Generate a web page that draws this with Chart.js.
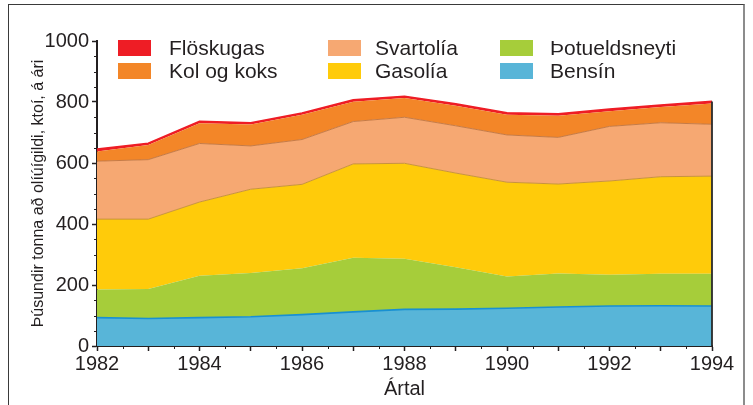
<!DOCTYPE html>
<html>
<head>
<meta charset="utf-8">
<script src="https://cdn.jsdelivr.net/npm/chart.js@4.4.1/dist/chart.umd.min.js"></script>
<style>
  html, body { margin: 0; padding: 0; background: #fff; }
  #wrap { position: relative; width: 753px; height: 405px; overflow: hidden; }
  #frame { position: absolute; left: 8px; top: 4px; width: 737px; height: 420px;
    border-top: 1.5px solid #3a3a3a; border-left: 1.5px solid #3a3a3a; border-right: 2px solid #8c8c8c; box-sizing: border-box; }
  canvas { position: absolute; left: 0; top: 0; }
  .lg { position: absolute; font-family: 'Liberation Sans', Arial, sans-serif; font-size: 21px; color: #231f20; line-height: 16px; white-space: nowrap; }
  .bx { position: absolute; width: 33px; height: 16px; }
</style>
</head>
<body>
<div id="wrap">
  <div id="frame"></div>
  <canvas id="c" width="753" height="405"></canvas>
  <div id="legend"></div>
</div>
<script>
// ---- data ----
const years = [1982, 1983, 1984, 1985, 1986, 1987, 1988, 1989, 1990, 1991, 1992, 1993, 1994];
const bensin = [93, 90, 93, 96, 103, 112, 120, 121, 124, 128, 131, 132, 131];
const thotueldsneyti = [92, 97, 137, 143, 152, 177, 166, 137, 104, 110, 103, 105, 106];
const gasolia = [231, 229, 242, 275, 275, 308, 313, 309, 309, 293, 307, 318, 320];
const svartolia = [190, 195, 192, 142, 147, 139, 151, 155, 155, 153, 179, 177, 170];
const kolOgKoks = [32, 48, 66, 70, 81, 65, 63, 66, 66, 71, 50, 52, 68];
const floskugas = [8, 6, 7, 6, 6, 6, 6, 6, 7, 6, 7, 6, 7];
const yTicks = [0, 200, 400, 600, 800, 1000];
const xTickLabels = [1982, 1984, 1986, 1988, 1990, 1992, 1994];
const seriesNames = ['Bensín', 'Þotueldsneyti', 'Gasolía', 'Svartolía', 'Kol og koks', 'Flöskugas'];
const yTitle = 'Þúsundir tonna að olíúígildi, ktoí, á ári';
const xTitle = 'Ártal';

// ---- styles ----
const fills = ['#58b5d8', '#a6cd3a', '#ffcb0a', '#f6a872', '#f38628', '#ee1d25'];
const borders = ['#1890d2', '#a6cd3a', '#c8923e', '#c57a45', '#f38628', '#ee1d25'];
const borderWidths = [1.6, 0, 1, 1, 0, 1.6];
const seriesValues = [bensin, thotueldsneyti, gasolia, svartolia, kolOgKoks, floskugas];

const datasets = seriesValues.map((vals, i) => ({
  label: seriesNames[i],
  data: vals.map((v, j) => ({ x: years[j], y: v })),
  backgroundColor: fills[i],
  borderColor: borders[i],
  borderWidth: borderWidths[i],
  fill: i === 0 ? 'origin' : '-1',
  pointRadius: 0,
  tension: 0
}));

const FONT = "'Liberation Sans', Arial, sans-serif";
const INK = '#231f20';

const extras = {
  id: 'extras',
  afterDraw(chart) {
    const { ctx, scales: { x, y } } = chart;
    ctx.save();
    ctx.strokeStyle = INK;
    ctx.lineWidth = 1;
    for (let v = 0; v <= 1000; v += 50) {
      if (v % 200 !== 0) {
        const py = Math.round(y.getPixelForValue(v)) + 0.5;
        ctx.beginPath(); ctx.moveTo(y.right - 3, py); ctx.lineTo(y.right, py); ctx.stroke();
      }
    }
    for (let v = years[0] + 0.5; v < years[years.length - 1]; v += 1) {
      const px = Math.round(x.getPixelForValue(v)) + 0.5;
      ctx.beginPath(); ctx.moveTo(px, x.top); ctx.lineTo(px, x.top + 3); ctx.stroke();
    }
    // right edge outline of stacked area
    const meta = chart.getDatasetMeta(chart.data.datasets.length - 1);
    const last = meta.data[meta.data.length - 1];
    ctx.strokeStyle = '#2a2a2a';
    ctx.lineWidth = 1.8;
    ctx.beginPath(); ctx.moveTo(last.x, last.y); ctx.lineTo(last.x, y.bottom); ctx.stroke();
    ctx.restore();
  }
};

new Chart(document.getElementById('c'), {
  type: 'line',
  data: { datasets },
  options: {
    responsive: false,
    animation: false,
    devicePixelRatio: 1,
    layout: { padding: { top: 41, right: 41, bottom: 0, left: 0 } },
    plugins: { legend: { display: false }, tooltip: { enabled: false } },
    scales: {
      x: {
        type: 'linear',
        min: years[0], max: years[years.length - 1],
        afterFit: s => { s.height = 59; },
        ticks: {
          stepSize: 1, autoSkip: false, maxRotation: 0,
          color: INK, font: { family: FONT, size: 20 }, padding: 1,
          callback: v => xTickLabels.includes(v) ? String(v) : ''
        },
        grid: { display: true, drawOnChartArea: false, drawTicks: true, tickLength: 5, tickColor: INK, tickWidth: 1.5 },
        border: { display: true, color: INK, width: 2 },
        title: { display: true, text: xTitle, color: INK, font: { family: FONT, size: 20 }, padding: { top: 0, bottom: 4 } }
      },
      y: {
        stacked: true,
        min: 0, max: 1000,
        afterFit: s => { s.width = 97; },
        afterBuildTicks: s => { s.ticks = yTicks.map(v => ({ value: v })); },
        ticks: { color: INK, font: { family: FONT, size: 20 }, padding: 3, callback: v => String(v) },
        grid: { display: true, drawOnChartArea: false, drawTicks: true, tickLength: 5, tickColor: INK, tickWidth: 1.5 },
        border: { display: true, color: INK, width: 2 },
        title: { display: true, text: yTitle, color: INK, font: { family: FONT, size: 16 }, padding: { top: 29, bottom: 0 } }
      }
    }
  },
  plugins: [extras]
});

// ---- HTML legend (3 columns x 2 rows) ----
const legendOrder = [5, 3, 1, 4, 2, 0];
const colBox = [118, 328, 500];
const colText = [169, 375, 550];
const rowTop = [40, 63];
const lg = document.getElementById('legend');
legendOrder.forEach((di, k) => {
  const col = k % 3, row = Math.floor(k / 3);
  const b = document.createElement('div');
  b.className = 'bx';
  b.style.left = colBox[col] + 'px';
  b.style.top = rowTop[row] + 'px';
  b.style.background = fills[di];
  lg.appendChild(b);
  const t = document.createElement('div');
  t.className = 'lg';
  t.style.left = colText[col] + 'px';
  t.style.top = rowTop[row] + 'px';
  t.textContent = seriesNames[di];
  lg.appendChild(t);
});
</script>
</body>
</html>
